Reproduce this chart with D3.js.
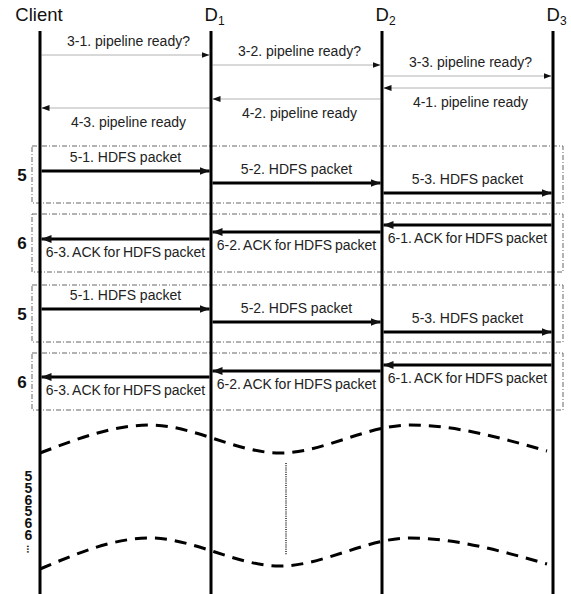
<!DOCTYPE html>
<html><head><meta charset="utf-8">
<script src="https://cdn.jsdelivr.net/npm/d3@7/dist/d3.min.js"></script>
<style>body{margin:0;background:#fff}svg{display:block}</style>
</head><body>
<script>
// ---- data ----
const participants = ["Client", "D1", "D2", "D3"];
const participantNames = ["Client", "D", "D", "D"];
const participantSubs = ["", "1", "2", "3"];

// setup phase (dotted): label, from, to, time
const setupLabels = ["3-1. pipeline ready?", "3-2. pipeline ready?", "3-3. pipeline ready?",
                     "4-1. pipeline ready", "4-2. pipeline ready", "4-3. pipeline ready"];
const setupFrom = ["Client", "D1", "D2", "D3", "D2", "D1"];
const setupTo   = ["D1", "D2", "D3", "D2", "D1", "Client"];
const setupTime = [55, 65, 76, 88, 99, 108];

// packet phase (solid), two cycles
const packetLabels = ["5-1. HDFS packet", "5-2. HDFS packet", "5-3. HDFS packet"];
const packetFrom = ["Client", "D1", "D2"];
const packetTo   = ["D1", "D2", "D3"];
const ackLabels = ["6-1. ACK for HDFS packet", "6-2. ACK for HDFS packet", "6-3. ACK for HDFS packet"];
const ackFrom = ["D3", "D2", "D1"];
const ackTo   = ["D2", "D1", "Client"];
const packetTimes = [[171, 183, 193], [309, 322, 332]];
const ackTimes    = [[225, 232, 239], [365, 371, 377]];
const groupNames  = ["5", "6", "5", "6"];
const groupSpans  = [[146, 203], [214, 272], [285, 342], [353, 410]];

const repeatSequence = ["5", "5", "6", "5", "6", "6"];
const breakTop    = [[40, 453], [150, 425], [280, 453], [410, 425], [547, 451]];
const breakBottom = [[40, 569], [150, 538], [280, 566], [410, 538], [547, 564]];

// ---- drawing ----
const W = 571, H = 594;
const svg = d3.select("body").append("svg").attr("width", W).attr("height", H)
  .style("font-family", "Arial, 'Liberation Sans', sans-serif");

const x = d3.scalePoint().domain(participants).range([40, 553]);
const y = d3.scaleLinear().domain([0, H]).range([0, H]);

const defs = svg.append("defs");
function marker(id, len, wid) {
  defs.append("marker").attr("id", id).attr("viewBox", `0 0 ${len} ${wid}`)
    .attr("refX", len).attr("refY", wid / 2).attr("markerUnits", "userSpaceOnUse")
    .attr("markerWidth", len).attr("markerHeight", wid).attr("orient", "auto")
    .append("path").attr("d", `M0,0L${len},${wid / 2}L0,${wid}Z`).attr("fill", "#111");
}
marker("small", 8, 6);
marker("big", 10, 8);

// group boxes
svg.append("g").selectAll("rect").data(groupSpans).join("rect")
  .attr("x", 32).attr("width", 563 - 32)
  .attr("y", d => y(d[0])).attr("height", d => y(d[1]) - y(d[0]))
  .attr("fill", "none").attr("stroke", "#666").attr("stroke-width", 1)
  .attr("stroke-dasharray", "5,2,1,2");

// group labels
svg.append("g").selectAll("text").data(groupNames).join("text")
  .attr("x", 22).attr("y", (d, i) => y((groupSpans[i][0] + groupSpans[i][1]) / 2) + 6)
  .attr("text-anchor", "middle").attr("font-size", 17).attr("font-weight", "bold")
  .attr("fill", "#111").text(d => d);

// lifelines
svg.append("g").selectAll("line").data(participants).join("line")
  .attr("x1", d => x(d)).attr("x2", d => x(d)).attr("y1", 31).attr("y2", H)
  .attr("stroke", "#000").attr("stroke-width", 3);

// headers
const hdr = svg.append("g").selectAll("text").data(participants).join("text")
  .attr("x", (d, i) => i === 0 ? x(d) - 1 : x(d) - 6.5)
  .attr("y", 21).attr("font-size", 18.5).attr("fill", "#111")
  .attr("text-anchor", (d, i) => i === 0 ? "middle" : "start");
hdr.append("tspan").text((d, i) => participantNames[i]);
hdr.append("tspan").attr("font-size", 12).attr("dy", 4).text((d, i) => participantSubs[i]);

function edge(from, to) {
  const x1 = x(from), x2 = x(to);
  const dir = x2 > x1 ? 1 : -1;
  return [x1 + dir * 1.5, x2 - dir * 1.5];
}

// setup messages
const setup = setupLabels.map((l, i) => ({ label: l, from: setupFrom[i], to: setupTo[i], t: setupTime[i] }));
const gs = svg.append("g");
gs.selectAll("line").data(setup).join("line")
  .attr("x1", d => edge(d.from, d.to)[0]).attr("x2", d => edge(d.from, d.to)[1])
  .attr("y1", d => y(d.t)).attr("y2", d => y(d.t))
  .attr("stroke", "#666").attr("stroke-width", 1).attr("stroke-dasharray", "1,1")
  .attr("marker-end", "url(#small)");
gs.selectAll("text").data(setup).join("text")
  .attr("x", d => (x(d.from) + x(d.to)) / 2 + 3)
  .attr("y", (d, i) => i < 3 ? y(d.t) - 9 : y(d.t) + 19)
  .attr("text-anchor", "middle").attr("font-size", 14).attr("fill", "#222")
  .text(d => d.label);

// packet / ack messages
const msgs = [];
packetTimes.forEach((ts, c) => ts.forEach((t, i) =>
  msgs.push({ label: packetLabels[i], from: packetFrom[i], to: packetTo[i], t, above: true })));
ackTimes.forEach((ts, c) => ts.forEach((t, i) =>
  msgs.push({ label: ackLabels[i], from: ackFrom[i], to: ackTo[i], t, above: false })));
const gm = svg.append("g");
gm.selectAll("line").data(msgs).join("line")
  .attr("x1", d => edge(d.from, d.to)[0]).attr("x2", d => edge(d.from, d.to)[1])
  .attr("y1", d => y(d.t)).attr("y2", d => y(d.t))
  .attr("stroke", "#000").attr("stroke-width", 3)
  .attr("marker-end", "url(#big)");
gm.selectAll("text").data(msgs).join("text")
  .attr("x", d => (x(d.from) + x(d.to)) / 2)
  .attr("y", d => d.above ? y(d.t) - 9 : y(d.t) + 18)
  .attr("text-anchor", "middle").attr("font-size", 14).attr("fill", "#222")
  .attr("word-spacing", d => d.above ? 0 : -1)
  .text(d => d.label);

// break waves
const wave = d3.line().x(d => d[0]).y(d => y(d[1])).curve(d3.curveMonotoneX);
svg.append("g").selectAll("path").data([breakTop, breakBottom]).join("path")
  .attr("d", wave).attr("fill", "none").attr("stroke", "#000")
  .attr("stroke-width", 3).attr("stroke-dasharray", "12,8");

// vertical dotted continuation
svg.append("line").attr("x1", 286).attr("x2", 286).attr("y1", 463).attr("y2", 555)
  .attr("stroke", "#222").attr("stroke-width", 1.5).attr("stroke-dasharray", "1,1.2");

// repeat sequence: one text run laid out downward, each glyph kept upright
svg.append("text")
  .attr("transform", "translate(24.6,481) rotate(90)")
  .attr("rotate", "-90")
  .attr("font-size", 14).attr("font-weight", "bold").attr("letter-spacing", 4)
  .attr("fill", "#111").text(repeatSequence.join(""));
svg.append("text").attr("transform", "translate(28.5,545) rotate(90)")
  .attr("font-size", 10).attr("font-weight", "bold").attr("fill", "#111")
  .attr("dy", 1.5).text("...");
</script>
</body></html>
